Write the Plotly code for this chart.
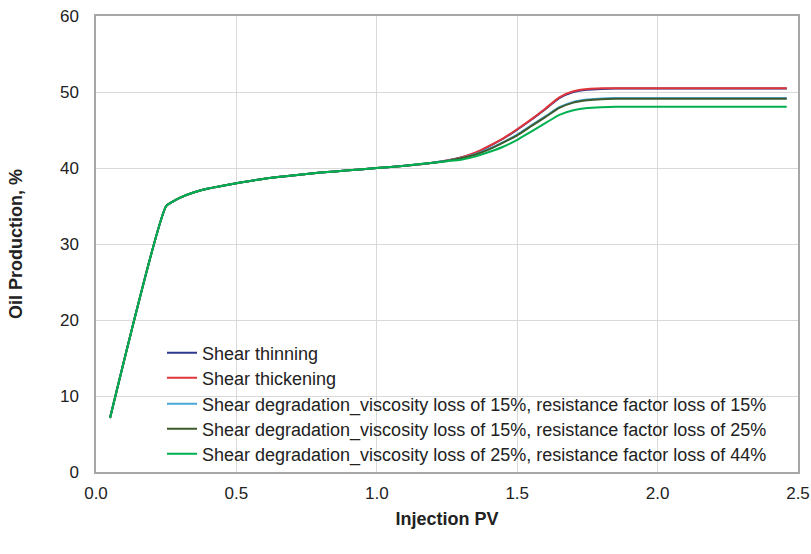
import plotly.graph_objects as go

injection_pv = [0.05, 0.25, 0.27, 0.30, 0.35, 0.40, 0.50, 0.60, 0.70, 0.80, 0.90, 1.00, 1.10, 1.20,
                1.25, 1.30, 1.35, 1.40, 1.45, 1.50, 1.55, 1.60, 1.65, 1.70, 1.75, 1.80, 1.85, 1.90,
                2.00, 2.10, 2.20, 2.30, 2.46]

common = [7.1, 35.0, 35.5, 36.1, 36.8, 37.3, 38.0, 38.6, 39.0, 39.4, 39.7, 40.0, 40.3, 40.7]

shear_thinning = common + [40.98, 41.38, 41.95, 42.85, 43.85, 45.05, 46.35, 47.75, 49.2, 50.0, 50.3, 50.4,
                           50.45, 50.45, 50.45, 50.45, 50.45, 50.45, 50.45]
shear_thickening = common + [41.0, 41.4, 42.0, 42.9, 43.9, 45.1, 46.4, 47.8, 49.3, 50.1, 50.4, 50.5,
                             50.5, 50.5, 50.5, 50.5, 50.5, 50.5, 50.5]
deg_15_15 = common + [40.95, 41.3, 41.8, 42.5, 43.4, 44.4, 45.6, 46.8, 48.0, 48.7, 49.0, 49.15,
                      49.2, 49.2, 49.2, 49.2, 49.2, 49.2, 49.2]
deg_15_25 = common + [40.93, 41.27, 41.75, 42.45, 43.33, 44.3, 45.5, 46.7, 47.9, 48.6, 48.9, 49.05,
                      49.1, 49.1, 49.1, 49.1, 49.1, 49.1, 49.1]
deg_25_44 = common + [40.9, 41.1, 41.5, 42.1, 42.8, 43.7, 44.8, 45.9, 47.0, 47.6, 47.9, 48.0,
                      48.05, 48.05, 48.05, 48.05, 48.05, 48.05, 48.05]

series_names = [
    "Shear thinning",
    "Shear thickening",
    "Shear degradation_viscosity loss of 15%, resistance factor loss of 15%",
    "Shear degradation_viscosity loss of 15%, resistance factor loss of 25%",
    "Shear degradation_viscosity loss of 25%, resistance factor loss of 44%",
]
series_values = [shear_thinning, shear_thickening, deg_15_15, deg_15_25, deg_25_44]
series_colors = ["#2b3990", "#e0353b", "#4ba6d9", "#3d5a2a", "#00b050"]

x_ticks = [0.0, 0.5, 1.0, 1.5, 2.0, 2.5]
y_ticks = [0, 10, 20, 30, 40, 50, 60]

FONT = "Liberation Sans, Arial, sans-serif"
legend_ids = ["legend", "legend2", "legend3", "legend4", "legend5"]

fig = go.Figure()
for name, vals, col, lid in zip(series_names, series_values, series_colors, legend_ids):
    fig.add_trace(go.Scatter(
        x=injection_pv, y=vals, mode="lines", name=name, legend=lid,
        line=dict(color=col, width=2, shape="spline", smoothing=0.6),
    ))

axis_common = dict(
    showgrid=True, gridcolor="#d9d9d9", gridwidth=1,
    showline=True, linecolor="#a6a6a6", linewidth=1.5, mirror=True,
    zeroline=False, ticks="", automargin=False,
    tickfont=dict(family=FONT, size=17, color="#222222"),
)

# legend rows (paper coords of each row centre)
row_px = [353, 378, 404, 429, 454]
legend_layout = {}
for lid, ypx in zip(legend_ids, row_px):
    legend_layout[lid] = dict(
        x=(162 - 96) / 702, y=(472 - ypx) / 456, xanchor="left", yanchor="middle",
        bgcolor="rgba(255,255,255,0)", borderwidth=0,
        font=dict(family=FONT, size=18, color="#222222"),
        itemwidth=30,
    )

fig.update_layout(
    width=811, height=554,
    margin=dict(l=96, r=13, t=16, b=82),
    paper_bgcolor="white", plot_bgcolor="white",
    font=dict(family=FONT, color="#222222"),
    xaxis=dict(
        range=[0, 2.5], tickvals=x_ticks, ticktext=[f"{v:.1f}" for v in x_ticks],
        ticklabelstandoff=5,
        title=dict(text="<b>Injection PV</b>", font=dict(family=FONT, size=18, color="#222222"), standoff=10),
        **axis_common,
    ),
    yaxis=dict(
        range=[0, 60], tickvals=y_ticks, ticktext=[str(v) for v in y_ticks],
        ticklabelstandoff=12,
        title=dict(text="<b>Oil Production, %</b>", font=dict(family=FONT, size=18, color="#222222"), standoff=33),
        **axis_common,
    ),
    shapes=[dict(
        type="rect", xref="paper", yref="paper", layer="between",
        x0=(146 - 96) / 702, x1=(772 - 96) / 702, y0=(472 - 467) / 456, y1=(472 - 338) / 456,
        fillcolor="white", line=dict(width=0),
    )],
    showlegend=True,
    **legend_layout,
)

fig.write_html("out.html")
